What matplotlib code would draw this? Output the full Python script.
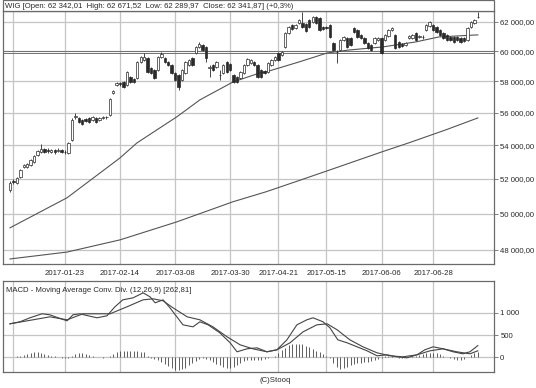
import numpy as np
import matplotlib.pyplot as plt
from matplotlib.ticker import FixedLocator, FuncFormatter, NullLocator
from matplotlib.patches import Rectangle

plt.rcParams['font.family'] = ['Liberation Sans', 'DejaVu Sans']

# --- data (WIG, daily candles, trading-day index) ---
opens = [51360, 51870, 51750, 52100, 52700, 52700, 52820, 52990, 53410, 53590,
         53770, 53710, 53590, 53710, 53650, 53710, 53600, 53530, 54320, 55740,
         55670, 55550, 55610, 55670, 55550, 55670, 55550, 55670, 55740, 55860,
         57260, 57770, 57900, 57960, 57770, 58290, 58160, 58230, 59280, 59420,
         59550, 58890, 58760, 58760, 59620, 59550, 59280, 59090, 58560, 58420,
         58090, 58560, 59090, 59550, 59880, 60290, 60420, 60290, 58890, 59090,
         58950, 58420, 58560, 59280, 59150, 58420, 58290, 58230, 58560, 59090,
         59220, 59280, 59090, 58760, 58690, 58620, 59090, 59420, 59880, 59750,
         60290, 61250, 61800, 61590, 61930, 61930, 61860, 62140, 62000, 62340,
         62270, 61660, 61660, 61800, 60560, 59950, 60080, 60770, 60900, 60900,
         61590, 61450, 61110, 60900, 60560, 60420, 60560, 60770, 60900, 60770,
         61040, 61450, 61110, 60630, 60490, 60420, 60900, 60900, 61250, 60970,
         60980, 61450, 61730, 61800, 61660, 61450, 61250, 61110, 60970, 60970,
         60970, 60900, 60900, 60770, 61660, 61930, 62342.01]
closes = [51750, 51810, 52040, 52520, 52820, 52880, 53110, 53350, 53650, 53770,
          53590, 53650, 53710, 53590, 53710, 53590, 53580, 54130, 55550, 55800,
          55430, 55300, 55490, 55430, 55740, 55430, 55670, 55740, 55720, 56880,
          57390, 57900, 57830, 57640, 58620, 57960, 57960, 59280, 59620, 59620,
          58620, 58560, 58230, 59620, 59820, 59280, 59090, 58560, 58090, 57640,
          58760, 59280, 59420, 59090, 60290, 60490, 60080, 59550, 58950, 58760,
          59280, 58440, 59090, 58620, 58760, 57960, 57960, 58620, 59090, 59480,
          59420, 59090, 58290, 58290, 58560, 59220, 59420, 59620, 59420, 59950,
          61250, 61660, 61520, 61800, 62140, 61660, 61380, 61660, 62340, 61930,
          61450, 61520, 61590, 60970, 60080, 59930, 60770, 60970, 60290, 60420,
          61320, 60970, 60900, 60560, 60220, 60080, 60900, 60900, 59880, 61110,
          61450, 61590, 60220, 60290, 60360, 60560, 61040, 61110, 60770, 61040,
          60960, 61800, 62000, 61450, 61320, 61110, 60900, 60770, 60770, 60630,
          60770, 60630, 60700, 61590, 62000, 62155, 62341.87]
highs = [51870, 51980, 52100, 52580, 52880, 52930, 53170, 53410, 53710, 54070,
         53830, 53830, 53770, 53770, 53830, 53770, 53710, 54190, 55670, 55980,
         55740, 55610, 55670, 55740, 55800, 55740, 55740, 55800, 55800, 56940,
         57450, 57960, 57960, 58030, 58690, 58360, 58230, 59350, 59680, 59880,
         59620, 58950, 58820, 59680, 59950, 59620, 59350, 59150, 58620, 58490,
         58820, 59350, 59480, 59620, 60360, 60630, 60490, 60360, 59090, 59150,
         59350, 58760, 59150, 59350, 59220, 58490, 58360, 58690, 59150, 59550,
         59480, 59350, 59150, 58820, 58760, 59280, 59480, 59680, 59950, 60010,
         61320, 61730, 61860, 61860, 62210, 62690, 61930, 62210, 62410, 62410,
         62340, 61730, 61730, 61860, 60630, 60080, 60840, 61040, 60970, 60970,
         61660, 61520, 61180, 60970, 60630, 60490, 60970, 60970, 60970, 61180,
         61520, 61660, 61180, 60700, 60560, 60630, 61110, 61180, 61320, 61110,
         61110, 61860, 62070, 61860, 61730, 61520, 61320, 61180, 61040, 61040,
         61040, 60970, 60970, 61660, 62070, 62210, 62671.52]
lows = [51240, 51700, 51700, 52040, 52640, 52640, 52760, 52930, 53350, 53530,
        53530, 53530, 53530, 53470, 53590, 53530, 53470, 53470, 54250, 55610,
        55370, 55240, 55430, 55370, 55490, 55370, 55490, 55610, 55610, 55800,
        57200, 57710, 57710, 57580, 57710, 57900, 57900, 58160, 59220, 59350,
        58560, 58490, 58160, 58690, 59550, 59220, 59020, 58490, 58030, 57450,
        58030, 58490, 59020, 59020, 59820, 60220, 60010, 59280, 58290, 58690,
        58890, 58090, 58490, 58560, 58690, 57900, 57900, 58160, 58490, 59020,
        59150, 59020, 58230, 58230, 58490, 58560, 59020, 59350, 59350, 59680,
        60220, 61180, 61450, 61520, 61860, 61590, 61320, 61590, 61930, 61860,
        61380, 61450, 61520, 60900, 60010, 59220, 60010, 60700, 60220, 60360,
        61250, 60900, 60840, 60490, 60150, 60010, 60490, 60700, 59820, 60700,
        60970, 61380, 60150, 60220, 60290, 60360, 60840, 60840, 60700, 60900,
        60840, 61380, 61660, 61380, 61250, 61040, 60840, 60700, 60700, 60560,
        60700, 60560, 60630, 60700, 61590, 61860, 62289.97]

# moving averages (sampled along the curves)
ma_mid_idx = [0, 16.6, 26.2, 32, 36.9, 42.7, 48.5, 55.2, 64.8, 72.7, 74.4, 84, 92.2, 98.5,
              108.4, 118, 124.7, 136]
ma_mid_val = [49210, 50900, 52340, 53230, 54130, 54930, 55740, 56810, 57960, 58560,
              58620, 59280, 59880, 60080, 60290, 60630, 60970, 61110]
ma_long_idx = [0, 16.6, 32, 48.5, 64.8, 74.4, 84, 92.2, 108.4, 116, 126.7, 136]
ma_long_val = [47520, 47890, 48550, 49540, 50670, 51240, 51890, 52460, 53610, 54140, 54930, 55670]

# MACD (12,26,9)
macd_idx = [0, 2.9, 5.8, 9.3, 11.6, 14, 16.6, 18.3, 20.3, 22.7, 25.3, 28.2, 30.5, 32.8, 35.8, 38.7,
            40.7, 42.2, 44.5, 46.5, 48.5, 50.3, 53.2, 55.2, 57.6, 61, 64, 66, 68.9, 71.8, 74.7, 77.6,
            80.5, 83.4, 86.3, 88.1, 91, 93, 95.3, 98, 100.9, 103.8, 106.7, 109.6, 112.5, 115.4, 118.3,
            120.6, 123, 125.9, 128.8, 131.7, 133.7, 136]
macd_val = [753, 798, 888, 978, 955, 888, 820, 955, 978, 933, 888, 933, 1135, 1292, 1337, 1449,
            1360, 1225, 1292, 1112, 910, 730, 685, 798, 730, 550, 326, 124, 191, 213, 124, 169,
            393, 730, 843, 888, 798, 663, 393, 326, 236, 146, 34, 56, 11, -11, 56,
            169, 236, 191, 124, 79, 124, 263]
signal_idx = [0, 6.7, 11.6, 16.6, 21.2, 26.2, 29.1, 34, 38.7, 41.6, 44.5, 47.4, 51.5, 55.2, 59, 63.1,
              66.9, 70.6, 74.7, 77.6, 81.4, 85.2, 89.2, 92.2, 95.1, 98.8, 102.6, 106.7, 110.5, 114.2,
              118.3, 122.1, 125.9, 129.9, 133.7, 136]
signal_val = [753, 843, 910, 843, 978, 978, 978, 1135, 1292, 1315, 1270, 1112, 910, 843, 685, 461,
              281, 191, 124, 169, 326, 573, 730, 753, 618, 393, 236, 101, 34, 11,
              56, 146, 191, 124, 79, 146]
hist = [0, 10, 20, 40, 60, 80, 100, 110, 110, 100,
        80, 60, 40, 30, 10, -10, -20, -10, 40, 80,
        100, 100, 80, 60, 30, 10, 0, -10, 10, 40,
        80, 110, 140, 150, 150, 140, 150, 140, 130, 110,
        40, -10, -30, -60, -100, -150, -200, -250, -280, -290,
        -270, -230, -180, -130, -80, -40, -20, -30, -60, -100,
        -140, -180, -210, -230, -230, -210, -170, -120, -80, -60,
        -60, -50, -60, -50, -40, -20, 0, 40, 100, 160,
        220, 270, 300, 310, 300, 290, 260, 230, 190, 150,
        110, 70, 30, -20, -120, -220, -260, -240, -210, -180,
        -150, -130, -120, -110, -100, -90, -70, -40, -10, 20,
        30, 20, 0, -20, -20, 0, 10, 20, 40, 60,
        70, 90, 100, 100, 90, 70, 40, 10, -10, -30,
        -50, -60, -40, 10, 60, 100, 117]

date_idx = [16, 32, 48, 64, 78, 92, 108, 123]
date_labels = ["2017-01-23", "2017-02-14", "2017-03-08", "2017-03-30",
               "2017-04-21", "2017-05-15", "2017-06-06", "2017-06-28"]
extra_grid_idx = [1]
price_ticks = [48000, 50000, 52000, 54000, 56000, 58000, 60000, 62000]
macd_ticks = [0, 500, 1000]
level_lines = [59990, 59870]

title = "WIG [Open: 62 342,01  High: 62 671,52  Low: 62 289,97  Close: 62 341,87] (+0,3%)"
macd_title = "MACD - Moving Average Conv. Div. (12,26,9) [262,81]"

# --- figure ---
W, H = 536, 388
fig = plt.figure(figsize=(W / 100, H / 100), dpi=100)
fig.patch.set_facecolor('white')


def px_axes(x0, y0, x1, y1):
    return fig.add_axes([x0 / W, 1 - y1 / H, (x1 - x0) / W, (y1 - y0) / H])


ink = '#2a2a2a'
grid_c = '#c4c4c4'
frame_c = '#6a6a6a'
fs = 5.6

ax = px_axes(3, 11, 494, 264)
ax2 = px_axes(3, 281, 494, 372)

o = np.array(opens)
c = np.array(closes)
h = np.array(highs)
l = np.array(lows)
x = np.arange(len(c))
up = c >= o

for a in (ax, ax2):
    a.set_xlim(-2.03, 140.7)
    for i in date_idx + extra_grid_idx:
        a.axvline(i, color=grid_c, lw=0.9, zorder=0)
    for s in a.spines.values():
        s.set_color(frame_c)
        s.set_linewidth(0.9)

# main panel
ax.set_yscale('log')
ax.set_ylim(47252, 62770)
for v in price_ticks:
    ax.axhline(v, color=grid_c, lw=0.9, zorder=0)
for v in level_lines:
    ax.axhline(v, color='#707070', lw=0.7, zorder=1)

ax.vlines(x, l, h, color=ink, lw=0.6, zorder=3)
ax.bar(x[up], c[up] - o[up], bottom=o[up], width=0.7, facecolor='white',
       edgecolor=ink, lw=0.5, zorder=4)
ax.bar(x[~up], o[~up] - c[~up], bottom=c[~up], width=0.7, facecolor=ink,
       edgecolor=ink, lw=0.5, zorder=4)

ax.plot(ma_mid_idx, ma_mid_val, color='#555555', lw=0.8, zorder=2)
ax.plot(ma_long_idx, ma_long_val, color='#555555', lw=0.8, zorder=2)

ax.yaxis.tick_right()
ax.yaxis.set_major_locator(FixedLocator(price_ticks))
ax.yaxis.set_minor_locator(NullLocator())
ax.yaxis.set_major_formatter(FuncFormatter(
    lambda v, p: f"{v:,.2f}".replace(',', ' ').replace('.', ',')))
ax.set_xticks(date_idx)
ax.set_xticklabels(date_labels)
ax.tick_params(axis='y', length=3, width=0.6, color=frame_c, pad=1.5,
               labelsize=fs, labelcolor=ink)
ax.tick_params(axis='x', length=0, pad=4, labelsize=fs, labelcolor=ink)

# title box
fig.patches.append(Rectangle((3 / W, 1 - 11 / H), 491 / W, 10.5 / H,
                             transform=fig.transFigure, facecolor='white',
                             edgecolor=frame_c, lw=0.9))
fig.text(5 / W, 1 - 6 / H, title, fontsize=fs, color=ink, va='center', ha='left')

# MACD panel
ax2.set_ylim(-330, 1715)
for v in macd_ticks:
    ax2.axhline(v, color=grid_c, lw=0.9, zorder=0)
ax2.vlines(x, 0, hist, color='#444444', lw=0.6, zorder=2)
ax2.plot(macd_idx, macd_val, color='#454545', lw=0.8, zorder=3)
ax2.plot(signal_idx, signal_val, color='#454545', lw=0.8, zorder=3)
ax2.yaxis.tick_right()
ax2.set_yticks(macd_ticks)
ax2.set_yticklabels(["0", "500", "1 000"])
ax2.set_xticks([])
ax2.tick_params(axis='y', length=3, width=0.6, color=frame_c, pad=1.5,
                labelsize=fs, labelcolor=ink)
ax2.text(0.006, 0.93, macd_title, transform=ax2.transAxes, fontsize=fs,
         color=ink, va='top', ha='left')

fig.text(275 / W, 1 - 380 / H, "(C)Stooq", fontsize=fs, color=ink,
         va='center', ha='center')

fig.savefig('out.png', dpi=100)
